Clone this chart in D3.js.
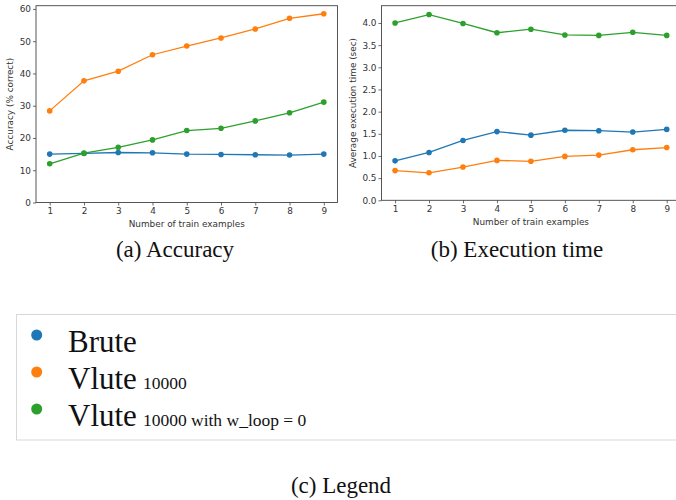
<!DOCTYPE html>
<html><head><meta charset="utf-8">
<script src="https://cdn.jsdelivr.net/npm/d3@7/dist/d3.min.js"></script>
<style>body{margin:0;background:#fff}svg{display:block}</style>
</head><body>
<svg id="c" width="676" height="500"></svg>
<script>
const xValues = [1,2,3,4,5,6,7,8,9];
const seriesNames = ["Brute","Vlute","Vlute"];
const seriesSubs = ["", "10000", "10000 with w_loop = 0"];
const seriesColors = ["#1f77b4","#ff7f0e","#2ca02c"];
const accBrute = [15.0,15.2,15.5,15.4,15.0,14.9,14.8,14.7,15.0];
const accVlute = [28.4,37.7,40.7,45.8,48.5,51.0,53.8,57.1,58.5];
const accVluteW0 = [12.0,15.3,17.1,19.4,22.3,23.0,25.3,27.8,31.1];
const timeBrute = [0.89,1.08,1.35,1.55,1.47,1.58,1.57,1.54,1.60];
const timeVlute = [0.67,0.62,0.75,0.90,0.88,0.99,1.02,1.14,1.19];
const timeVluteW0 = [4.00,4.19,3.99,3.78,3.86,3.73,3.72,3.79,3.72];
const accTicks = [0,10,20,30,40,50,60];
const timeTicks = [0,0.5,1.0,1.5,2.0,2.5,3.0,3.5,4.0];

const svg = d3.select("#c");
const sans = "DejaVu Sans", serif = "Liberation Serif";
const fs = 8.9;

function panel(o){
  const g = svg.append("g");
  const x = d3.scaleLinear().domain([0.6,9.4]).range([o.x0,o.x1]);
  const y = d3.scaleLinear().domain([0,o.ymax]).range([o.y1,o.y0]);
  const xa = g.append("g").attr("transform",`translate(0,${o.y1})`)
    .call(d3.axisBottom(x).tickValues(xValues).tickFormat(d3.format("d")).tickSize(3).tickPadding(2));
  const ya = g.append("g").attr("transform",`translate(${o.x0},0)`)
    .call(d3.axisLeft(y).tickValues(o.ticks).tickFormat(o.fmt).tickSize(3).tickPadding(2));
  [xa,ya].forEach(a=>{
    a.select(".domain").remove();
    a.selectAll("line").attr("stroke","#444").attr("stroke-width",0.8);
    a.selectAll("text").attr("font-family",sans).attr("font-size",fs).attr("fill","#333");
  });
  g.append("rect").attr("x",o.x0).attr("y",o.y0).attr("width",o.x1-o.x0).attr("height",o.y1-o.y0)
    .attr("fill","none").attr("stroke","#444").attr("stroke-width",0.9);
  const line = d3.line().x((d,i)=>x(xValues[i])).y(d=>y(d));
  o.series.forEach((s,k)=>{
    g.append("path").datum(s).attr("d",line).attr("fill","none").attr("stroke",seriesColors[k]).attr("stroke-width",1.3);
    g.selectAll(null).data(s).enter().append("circle")
      .attr("cx",(d,i)=>x(xValues[i])).attr("cy",d=>y(d)).attr("r",2.8).attr("fill",seriesColors[k]);
  });
  g.append("text").attr("x",(o.x0+o.x1)/2).attr("y",o.y1+24.5).attr("text-anchor","middle")
    .attr("font-family",sans).attr("font-size",fs).attr("fill","#333").text("Number of train examples");
  g.append("text").attr("transform",`translate(${o.ylx},${(o.y0+o.y1)/2}) rotate(-90)`).attr("text-anchor","middle")
    .attr("font-family",sans).attr("font-size",fs).attr("fill","#333").text(o.ylabel);
  svg.append("text").attr("x",o.capX).attr("y",257).attr("text-anchor","middle")
    .attr("font-family",serif).attr("font-size",23).attr("fill","#111").text(o.caption);
}

panel({x0:36,x1:337.5,y0:5.7,y1:202.5,ymax:61.0,ticks:accTicks,fmt:d3.format("d"),
  series:[accBrute,accVlute,accVluteW0],ylabel:"Accuracy (% correct)",ylx:13,capX:175,caption:"(a) Accuracy"});
panel({x0:381.5,x1:680.3,y0:5.7,y1:200.3,ymax:4.39,ticks:timeTicks,fmt:d3.format(".1f"),
  series:[timeBrute,timeVlute,timeVluteW0],ylabel:"Average execution time (sec)",ylx:355.5,capX:517,caption:"(b) Execution time"});

// legend
svg.append("rect").attr("x",16.5).attr("y",314.5).attr("width",700).attr("height",125.5)
  .attr("fill","none").attr("stroke","#d8d8d8").attr("stroke-width",1);
const ly = d3.scalePoint().domain(d3.range(seriesNames.length)).range([335,409]);
seriesNames.forEach((n,k)=>{
  svg.append("circle").attr("cx",36.7).attr("cy",ly(k)).attr("r",5.5).attr("fill",seriesColors[k]);
  const t = svg.append("text").attr("x",68).attr("y",ly(k)+17).attr("font-family",serif).attr("fill","#111");
  t.append("tspan").attr("font-size",31).text(n);
  if(seriesSubs[k]) t.append("tspan").attr("font-size",17.5).attr("dx",6).text(seriesSubs[k]);
});
svg.append("text").attr("x",341).attr("y",493).attr("text-anchor","middle")
  .attr("font-family",serif).attr("font-size",23).attr("fill","#111").text("(c) Legend");
</script>
</body></html>
